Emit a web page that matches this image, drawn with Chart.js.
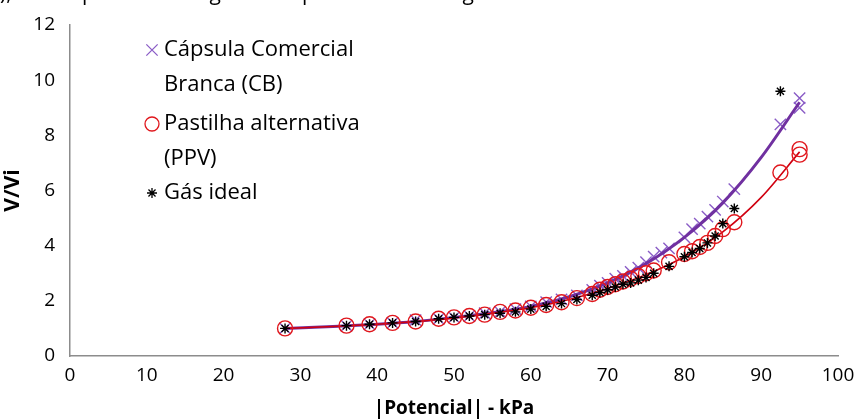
<!DOCTYPE html>
<html lang="pt">
<head>
  <meta charset="UTF-8" />
  <title>V/Vi x |Potencial|</title>
  <script src="https://cdn.jsdelivr.net/npm/chart.js"></script>
  <style>
    body {
        margin: 0;
        background: #fff;
        font-family: 'Open Sans', sans-serif;
    }
    .wrap {
        position: relative;
        width: 866px;
        height: 420px;
        overflow: hidden;
    }
    .cut {
        position: absolute;
        left: 0;
        top: -22px;
        font-size: 21px;
        white-space: nowrap;
        color: #000;
    }
  </style>
</head>
<body>
  <div class="wrap">
    <div class="cut">), foram plotados em gráfico representado na figura</div>
    <canvas id="grafico" width="866" height="420"></canvas>
  </div>

  <script>
    // valores
    const potencialCB = [28, 36, 39, 42, 45, 48, 50, 52, 54, 56, 58, 60, 62, 64, 66, 68, 69, 70, 71, 72, 73, 74, 75, 76, 77, 78, 80, 81, 82, 83, 84, 85, 86.5, 92.5, 95, 95];
    const razaoCB     = [1.0, 1.1, 1.15, 1.2, 1.3, 1.35, 1.4, 1.45, 1.55, 1.6, 1.7, 1.8, 1.95, 2.05, 2.2, 2.4, 2.55, 2.65, 2.8, 2.9, 3.05, 3.2, 3.4, 3.6, 3.75, 3.9, 4.3, 4.6, 4.8, 5.05, 5.3, 5.6, 6.05, 8.4, 9.0, 9.35];

    const potencialPPV = [28, 36, 39, 42, 45, 48, 50, 52, 54, 56, 58, 60, 62, 64, 66, 68, 69, 70, 71, 72, 73, 74, 75, 76, 78, 80, 81, 82, 83, 84, 85, 86.5, 92.5, 95, 95];
    const razaoPPV     = [1.0, 1.1, 1.15, 1.2, 1.25, 1.35, 1.4, 1.45, 1.5, 1.6, 1.65, 1.75, 1.85, 1.95, 2.1, 2.25, 2.4, 2.5, 2.6, 2.7, 2.8, 2.9, 3.0, 3.1, 3.4, 3.7, 3.8, 3.95, 4.1, 4.35, 4.6, 4.85, 6.65, 7.3, 7.5];

    const potencialGas = [28, 36, 39, 42, 45, 48, 50, 52, 54, 56, 58, 60, 62, 64, 66, 68, 69, 70, 71, 72, 73, 74, 75, 76, 78, 80, 81, 82, 83, 84, 85, 86.5, 92.5];
    const razaoGas     = [1.0, 1.1, 1.15, 1.2, 1.25, 1.35, 1.4, 1.45, 1.5, 1.55, 1.6, 1.7, 1.8, 1.9, 2.05, 2.2, 2.3, 2.4, 2.5, 2.6, 2.65, 2.75, 2.85, 3.0, 3.25, 3.6, 3.75, 3.9, 4.1, 4.35, 4.8, 5.35, 9.6];

    // linhas de tendência
    const tendX   = [28, 35, 40, 45, 50, 55, 60, 65, 70, 75, 80, 85, 90, 95];
    const tendCB  = [1.0, 1.08, 1.15, 1.25, 1.4, 1.57, 1.8, 2.15, 2.65, 3.35, 4.3, 5.55, 7.2, 9.2];
    const tendPPV = [1.0, 1.08, 1.15, 1.25, 1.38, 1.55, 1.75, 2.05, 2.45, 2.95, 3.6, 4.5, 5.75, 7.4];

    const legenda = [
      { linhas: ['Cápsula Comercial', 'Branca (CB)'], estilo: 'crossRot', cor: '#8a5cc6', raio: 8, y: 50 },
      { linhas: ['Pastilha alternativa', '(PPV)'], estilo: 'circle', cor: '#e0161c', raio: 7, y: 124 },
      { linhas: ['Gás ideal'], estilo: 'star', cor: '#000', raio: 5, y: 193 }
    ];

    const pares = (xs, ys) => xs.map((x, i) => ({ x: x, y: ys[i] }));

    const legendaPlugin = {
      id: 'legendaPlugin',
      afterDraw(chart) {
        const ctx = chart.ctx;
        ctx.save();
        ctx.font = '22px "Open Sans"';
        ctx.textBaseline = 'middle';
        legenda.forEach(item => {
          ctx.strokeStyle = item.cor;
          ctx.fillStyle = 'rgba(0,0,0,0)';
          ctx.lineWidth = 1.3;
          Chart.helpers.drawPoint(ctx, { pointStyle: item.estilo, radius: item.raio, borderWidth: 1.3 }, 152, item.y);
          ctx.fillStyle = '#000';
          item.linhas.forEach((t, i) => ctx.fillText(t, 164, item.y + i * 35));
        });
        ctx.restore();
      }
    };

    new Chart(document.getElementById('grafico'), {
      type: 'scatter',
      data: {
        datasets: [
          {
            label: 'Gás ideal',
            data: pares(potencialGas, razaoGas),
            pointStyle: 'star',
            pointRadius: 5,
            borderColor: '#000',
            borderWidth: 1.4,
            order: 1
          },
          {
            label: 'Pastilha alternativa (PPV)',
            data: pares(potencialPPV, razaoPPV),
            pointStyle: 'circle',
            pointRadius: 7.5,
            backgroundColor: 'rgba(0,0,0,0)',
            borderColor: '#e0161c',
            borderWidth: 1.4,
            order: 2
          },
          {
            type: 'line',
            label: 'tend PPV',
            data: pares(tendX, tendPPV),
            borderColor: '#d00010',
            borderWidth: 1.6,
            pointRadius: 0,
            tension: 0.4,
            cubicInterpolationMode: 'monotone',
            order: 3
          },
          {
            type: 'line',
            label: 'tend CB',
            data: pares(tendX, tendCB),
            borderColor: '#7030a0',
            borderWidth: 3,
            pointRadius: 0,
            tension: 0.4,
            cubicInterpolationMode: 'monotone',
            order: 4
          },
          {
            label: 'Cápsula Comercial Branca (CB)',
            data: pares(potencialCB, razaoCB),
            pointStyle: 'crossRot',
            pointRadius: 8,
            borderColor: '#8a5cc6',
            borderWidth: 1.4,
            order: 5
          }
        ]
      },
      options: {
        responsive: false,
        animation: false,
        layout: { padding: { top: 25, right: 28, left: 0, bottom: 0 } },
        plugins: {
          legend: { display: false },
          tooltip: { enabled: false }
        },
        scales: {
          x: {
            type: 'linear',
            min: 0,
            max: 100,
            ticks: { stepSize: 10, color: '#000', font: { family: 'Open Sans', size: 19 }, padding: 1, maxRotation: 0 },
            grid: { display: false, drawTicks: true, tickLength: 7, tickColor: '#8c8c8c' },
            border: { color: '#8c8c8c', width: 1.5 },
            title: { display: true, text: '|Potencial| - kPa', color: '#000', font: { family: 'Open Sans', size: 19, weight: 'bold' }, padding: { top: -7, bottom: 0 } },
            afterFit(scale) { scale.height = 64; }
          },
          y: {
            min: 0,
            max: 12,
            ticks: { stepSize: 2, color: '#000', font: { family: 'Open Sans', size: 19 }, padding: 8 },
            grid: { display: false, drawTicks: true, tickLength: 7, tickColor: '#8c8c8c' },
            border: { color: '#8c8c8c', width: 1.5 },
            title: { display: true, text: 'V/Vi', color: '#000', font: { family: 'Open Sans', size: 21, weight: 'bold' }, padding: { top: 0, bottom: 0 } },
            afterFit(scale) { scale.width = 70; }
          }
        }
      },
      plugins: [legendaPlugin]
    });
  </script>
</body>
</html>
